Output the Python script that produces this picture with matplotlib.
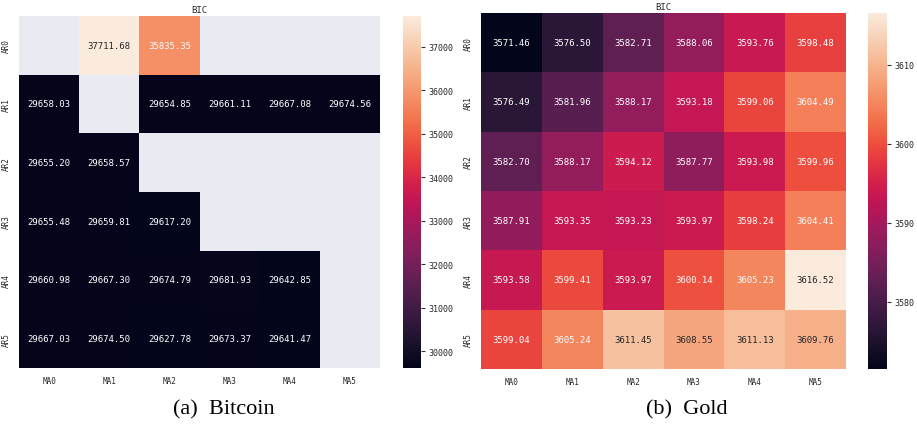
import numpy as np
import matplotlib
matplotlib.use('Agg')
import matplotlib.pyplot as plt
import seaborn as sns

sns.set_theme(style='darkgrid')
plt.rcParams['font.family'] = ['DejaVu Sans Mono', 'Noto Sans CJK SC']

# BIC 网格：行 AR(p)，列 MA(q)，缺失的组合为 NaN
ar_labels = ['AR0', 'AR1', 'AR2', 'AR3', 'AR4', 'AR5']
ma_labels = ['MA0', 'MA1', 'MA2', 'MA3', 'MA4', 'MA5']

nan = np.nan
bic_bitcoin = [
    [nan, 37711.68, 35835.35, nan, nan, nan],
    [29658.03, nan, 29654.85, 29661.11, 29667.08, 29674.56],
    [29655.20, 29658.57, nan, nan, nan, nan],
    [29655.48, 29659.81, 29617.20, nan, nan, nan],
    [29660.98, 29667.30, 29674.79, 29681.93, 29642.85, nan],
    [29667.03, 29674.50, 29627.78, 29673.37, 29641.47, nan],
]
bic_gold = [
    [3571.46, 3576.50, 3582.71, 3588.06, 3593.76, 3598.48],
    [3576.49, 3581.96, 3588.17, 3593.18, 3599.06, 3604.49],
    [3582.70, 3588.17, 3594.12, 3587.77, 3593.98, 3599.96],
    [3587.91, 3593.35, 3593.23, 3593.97, 3598.24, 3604.41],
    [3593.58, 3599.41, 3593.97, 3600.14, 3605.23, 3616.52],
    [3599.04, 3605.24, 3611.45, 3608.55, 3611.13, 3609.76],
]
captions = ['(a)  Bitcoin', '(b)  Gold']

W, H = 917, 427
fig = plt.figure(figsize=(W / 100, H / 100), dpi=100)
fig.patch.set_facecolor('white')


def px_axes(x0, y0, x1, y1):
    # 按像素坐标（左上角为原点）创建子图
    return fig.add_axes([x0 / W, (H - y1) / H, (x1 - x0) / W, (y1 - y0) / H])


panels = [
    (bic_bitcoin, (19, 17, 380, 369), (403, 17, 421, 369), 224),
    (bic_gold, (481, 14, 846, 370), (868, 14, 887, 370), 687),
]

for (data, hm_box, cb_box, cap_x), cap in zip(panels, captions):
    ax = px_axes(*hm_box)
    cax = px_axes(*cb_box)
    sns.heatmap(np.array(data), ax=ax, cbar_ax=cax, annot=True, fmt='.2f',
                annot_kws={'fontsize': 6.5},
                xticklabels=ma_labels, yticklabels=ar_labels)
    ax.grid(False)
    ax.set_facecolor('#EAEAF2')
    ax.set_title('BIC', fontsize=6.5, pad=3)
    ax.tick_params(axis='both', length=0, labelsize=5.5, pad=6)
    ax.tick_params(axis='y', labelrotation=90)
    for lbl in ax.get_yticklabels():
        lbl.set_va('center')
    cax.tick_params(axis='y', right=True, length=3, width=0.8, color='#333333',
                    labelsize=6, pad=2)
    fig.text(cap_x / W, 1 - 410 / H, cap, ha='center', va='center',
             fontsize=16, family='Liberation Serif', color='black')

fig.savefig('out.png', dpi=100, facecolor='white')
